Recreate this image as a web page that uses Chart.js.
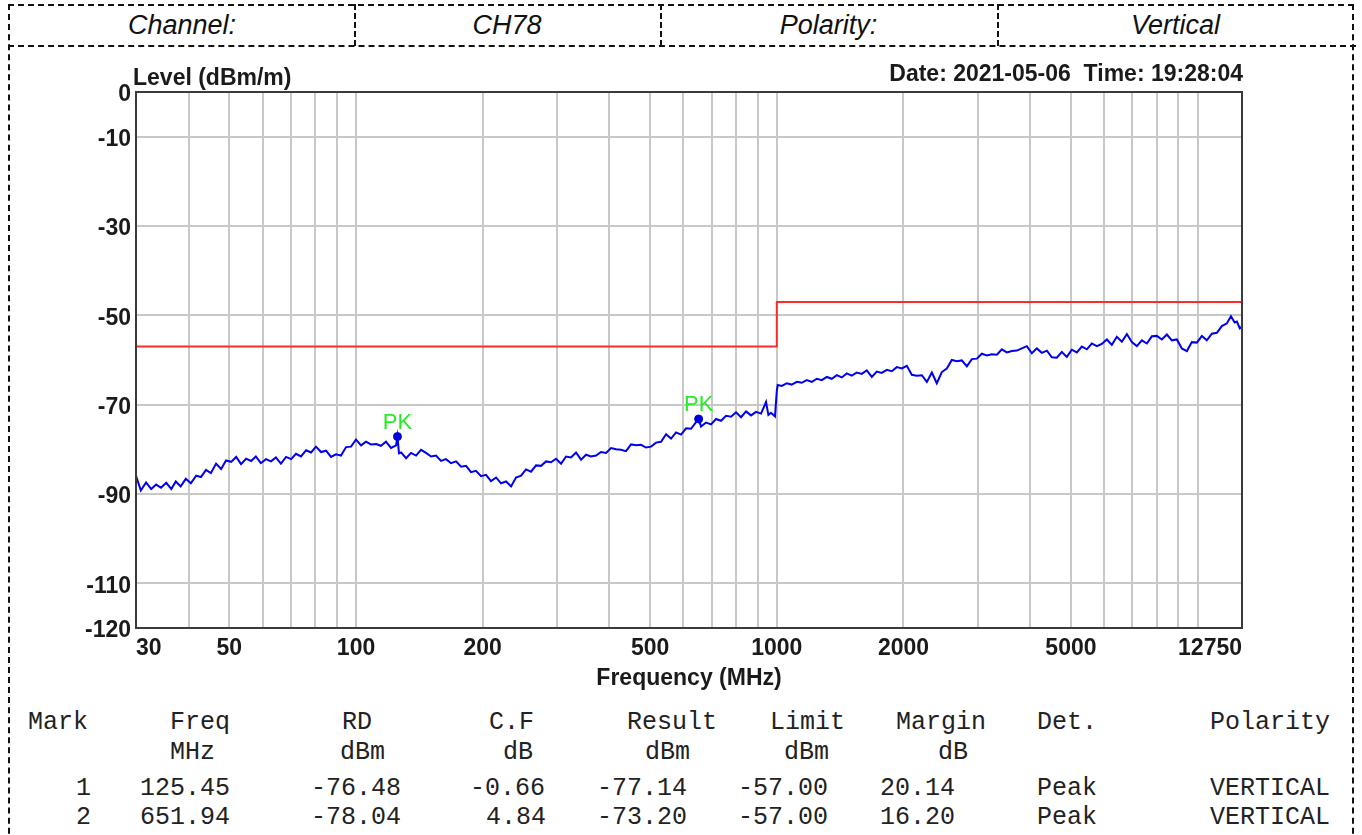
<!DOCTYPE html>
<html>
<head>
<meta charset="utf-8">
<script src="https://cdn.jsdelivr.net/npm/chart.js@4.4.1/dist/chart.umd.min.js"></script>
<style>
  html, body { margin: 0; padding: 0; background: #fff; }
  #page { position: relative; width: 1362px; height: 835px; overflow: hidden; }
  .frame { position: absolute; left: 8px; top: 4px; width: 1346px; height: 900px;
           border: 2px dashed #111; box-sizing: border-box; }
  .hline { position: absolute; left: 8px; top: 45px; width: 1348px; height: 0; border-top: 2px dashed #111; }
  .vline { position: absolute; top: 4px; height: 42px; width: 0; border-left: 2px dashed #111; }
  .hcell { position: absolute; top: 6px; height: 39px; display: flex; align-items: center; justify-content: center;
           font: italic 27px "Liberation Sans", Arial, sans-serif; color: #111; }
  #chartBox { position: absolute; left: 0; top: 50px; }
  .tcell { position: absolute; font: 25px "Liberation Mono", "Courier New", monospace; color: #222;
           line-height: 28px; white-space: pre; }
</style>
</head>
<body>
<div id="page">
  <div class="frame"></div>
  <div class="hline"></div>
  <div class="vline" style="left:354px"></div>
  <div class="vline" style="left:660px"></div>
  <div class="vline" style="left:997px"></div>
  <div id="head"></div>
  <div id="chartBox"><canvas id="Chart1" width="1362" height="650"></canvas></div>
  <div id="table"></div>
</div>
<script>
document.addEventListener("DOMContentLoaded", function () {

  // header cells
  const headText = ["Channel:", "CH78", "Polarity:", "Vertical"];
  const headEdges = [10, 354, 660, 997, 1354];

  // measured trace (MHz / dBm)
  const freqMHz = [
    30, 30.8, 31.7, 32.6, 33.5, 34.4, 35.4, 36.4, 37.3, 38.3, 39.4, 40.5, 41.7, 42.8, 44.0, 45.2,
    46.5, 47.8, 49.1, 50.5, 51.9, 53.3, 54.8, 56.3, 57.8, 59.4, 61.1, 62.8, 64.5, 66.3, 68.2, 70.1,
    72.0, 74.0, 76.1, 78.2, 80.3, 82.6, 84.9, 87.2, 89.6, 92.1, 94.7, 97.3, 100, 102.8, 105.6, 108.5,
    111.6, 114.6, 117.8, 121.1, 124.5, 125.45, 126.5, 128.0, 131.5, 135.1, 138.9, 142.7, 146.7, 150.8,
    154.9, 159.2, 163.6, 168.2, 172.9, 177.7, 182.6, 187.6, 192.8, 198.2, 203.7, 209.3, 215.2, 221.1,
    227.3, 233.6, 240.0, 246.7, 253.5, 260.5, 267.8, 275.2, 282.9, 290.7, 298.8, 307.1, 315.6, 324.3,
    333.3, 342.6, 352.1, 361.8, 371.9, 382.2, 392.8, 403.7, 414.9, 426.4, 438.2, 450.3, 462.9, 475.7,
    488.9, 502.4, 516.4, 530.7, 545.5, 560.6, 576.2, 592.1, 608.6, 625.5, 642.8, 651.94, 660.6, 678.9,
    697.8, 717.1, 737.0, 757.4, 778.4, 800, 822.2, 845, 868.4, 892.5, 917.3, 942.7, 955, 968.8,
    990, 1000, 1005, 1028, 1056, 1085, 1116, 1146, 1178, 1211, 1245, 1279, 1315, 1351, 1389, 1427,
    1467, 1507, 1549, 1592, 1636, 1682, 1728, 1776, 1826, 1876, 1928, 1982, 2037, 2093, 2151, 2211,
    2273, 2336, 2400, 2467, 2535, 2605, 2678, 2752, 2829, 2907, 2988, 3071, 3156, 3243, 3334, 3426,
    3521, 3619, 3719, 3822, 3928, 4037, 4149, 4264, 4383, 4504, 4629, 4757, 4889, 5025, 5164, 5307,
    5455, 5606, 5762, 5921, 6086, 6254, 6428, 6606, 6790, 6978, 7172, 7371, 7575, 7785, 8001, 8223,
    8452, 8686, 8927, 9174, 9429, 9690, 9960, 10236, 10520, 10811, 11111, 11419, 11737, 12000, 12250, 12397,
    12600, 12750
  ];
  const levelDbm = [
    -85.9, -89.2, -87.4, -88.9, -87.9, -88.6, -87.5, -88.9, -87.2, -88.3, -86.6, -87.6, -85.9, -86.2, -84.6, -85.3,
    -83.2, -84.4, -82.5, -82.8, -81.7, -83.3, -82.1, -82.6, -81.6, -83.1, -82.2, -82.7, -81.8, -83.2, -81.7, -82.2,
    -81.0, -81.6, -80.2, -80.7, -79.4, -80.6, -80.3, -81.7, -81.1, -81.4, -79.5, -79.4, -77.8, -79.1, -78.3, -78.9,
    -78.8, -79.2, -78.3, -79.7, -79.1, -77.14, -80.9, -80.7, -82.0, -80.8, -81.4, -80.1, -80.8, -81.6,
    -81.4, -82.6, -82.2, -83.1, -82.7, -83.9, -83.7, -85.1, -84.8, -86.0, -85.7, -87.1, -86.3, -87.6,
    -87.2, -88.3, -86.3, -85.9, -84.5, -85.0, -83.6, -83.7, -82.7, -82.9, -82.1, -83.2, -81.6, -81.8,
    -80.7, -82.3, -81.2, -81.6, -81.4, -80.6, -80.8, -79.7, -80.0, -80.1, -80.4, -78.9, -79.1, -79.0,
    -79.6, -79.4, -78.5, -78.3, -76.6, -77.6, -76.2, -76.7, -75.3, -75.4, -73.9, -73.2, -74.9, -74.0,
    -74.4, -73.2, -73.6, -72.5, -72.7, -71.7, -72.8, -71.5, -72.4, -71.6, -72.0, -69.4, -72.3, -71.8,
    -72.6, -66.9, -65.6, -65.8, -65.2, -65.5, -64.9, -65.1, -64.5, -64.9, -64.2, -64.5, -63.8, -64.2, -63.4, -63.9,
    -63.0, -63.5, -62.8, -63.1, -62.3, -63.8, -62.6, -62.9, -62.2, -62.5, -61.6, -61.9, -61.3, -63.3, -63.5, -63.4,
    -64.9, -62.8, -65.2, -62.7, -61.9, -60.0, -60.3, -60.1, -61.4, -59.8, -59.7, -58.6, -59.0, -58.7, -58.8, -57.6,
    -58.3, -58.0, -57.9, -57.4, -56.9, -58.5, -57.4, -58.4, -57.9, -59.4, -59.5, -58.2, -59.3, -57.7, -58.3, -57.0,
    -57.6, -56.3, -56.9, -56.4, -55.4, -56.6, -54.8, -55.9, -54.2, -56.0, -56.9, -55.6, -56.3, -54.7, -54.6, -55.4,
    -54.3, -55.6, -55.4, -57.4, -58.0, -56.0, -56.1, -54.6, -55.6, -54.1, -53.9, -52.4, -51.8, -50.2, -51.6, -51.4,
    -52.9, -52.5
  ];

  // limit line
  const limitFreq = [30, 1000, 1000, 12750];
  const limitLevel = [-57, -57, -47, -47];

  // peak markers
  const markFreq = [125.45, 651.94];
  const markLevel = [-77.14, -73.20];
  const markText = ["PK", "PK"];

  // axes
  const yTicks = [0, -10, -30, -50, -70, -90, -110, -120];
  const xGrid = [30, 40, 50, 60, 70, 80, 90, 100, 200, 300, 400, 500, 600, 700, 800, 900,
                 1000, 2000, 3000, 4000, 5000, 6000, 7000, 8000, 9000, 10000, 12750];
  const xLabels = [30, 50, 100, 200, 500, 1000, 2000, 5000, 12750];

  // result table
  const tableRows = [
    ["Mark", "Freq", "RD", "C.F", "Result", "Limit", "Margin", "Det.", "Polarity"],
    ["", "MHz", "dBm", "dB", "dBm", "dBm", "dB", "", ""],
    ["1", "125.45", "-76.48", "-0.66", "-77.14", "-57.00", "20.14", "Peak", "VERTICAL"],
    ["2", "651.94", "-78.04", "4.84", "-73.20", "-57.00", "16.20", "Peak", "VERTICAL"]
  ];
  const rowLeft = [
    [28, 170, 342, 489, 627, 770, 896, 1037, 1210],
    [28, 170, 340, 503, 645, 784, 938, 1037, 1210],
    [76, 140, 311, 470, 597, 738, 880, 1037, 1210],
    [76, 140, 311, 486, 597, 738, 880, 1037, 1210]
  ];
  const rowTop = [709, 739, 775, 804];

  const head = document.getElementById('head');
  headText.forEach(function (t, i) {
    const d = document.createElement('div');
    d.className = 'hcell';
    d.style.left = headEdges[i] + 'px';
    d.style.width = (headEdges[i + 1] - headEdges[i]) + 'px';
    d.textContent = t;
    head.appendChild(d);
  });

  const table = document.getElementById('table');
  tableRows.forEach(function (row, r) {
    row.forEach(function (t, c) {
      if (!t) return;
      const d = document.createElement('div');
      d.className = 'tcell';
      d.style.left = rowLeft[r][c] + 'px';
      d.style.top = rowTop[r] + 'px';
      d.textContent = t;
      table.appendChild(d);
    });
  });

  const boldFont = { family: "'Liberation Sans', Arial, sans-serif", size: 23, weight: 'bold' };

  const frameAndText = {
    id: 'frameAndText',
    afterDatasetsDraw: function (chart) {
      const ctx = chart.ctx;
      const a = chart.chartArea;
      const xs = chart.scales.x, ys = chart.scales.y;
      ctx.save();
      // PK labels
      ctx.font = "22px 'Liberation Sans', Arial, sans-serif";
      ctx.fillStyle = 'rgb(40,235,40)';
      ctx.textAlign = 'center';
      ctx.textBaseline = 'alphabetic';
      markFreq.forEach(function (f, i) {
        ctx.fillText(markText[i], xs.getPixelForValue(f), ys.getPixelForValue(markLevel[i]) - 8);
      });
      // plot frame
      ctx.strokeStyle = '#3a3a3a';
      ctx.lineWidth = 2;
      ctx.strokeRect(a.left, a.top, a.right - a.left, a.bottom - a.top);
      // axis title + date
      ctx.fillStyle = '#1a1a1a';
      ctx.font = "bold 23px 'Liberation Sans', Arial, sans-serif";
      ctx.textAlign = 'left';
      ctx.fillText('Level (dBm/m)', a.left - 3, a.top - 7);
      ctx.textAlign = 'right';
      ctx.fillText('Date: 2021-05-06  Time: 19:28:04', a.right + 1, a.top - 11);
      ctx.restore();
    }
  };

  const config1 = {
    type: 'line',
    data: {
      datasets: [
        {
          data: freqMHz.map(function (f, i) { return { x: f, y: levelDbm[i] }; }),
          borderColor: '#0000f0',
          borderWidth: 2,
          pointRadius: 0,
          tension: 0
        },
        {
          data: limitFreq.map(function (f, i) { return { x: f, y: limitLevel[i] }; }),
          borderColor: 'rgb(250,45,45)',
          borderWidth: 2,
          pointRadius: 0,
          tension: 0
        },
        {
          type: 'scatter',
          data: markFreq.map(function (f, i) { return { x: f, y: markLevel[i] }; }),
          backgroundColor: '#0000d0',
          borderColor: '#0000d0',
          pointRadius: 4,
          showLine: false
        }
      ]
    },
    options: {
      responsive: false,
      animation: false,
      devicePixelRatio: 1,
      layout: { padding: { top: 42, right: 120, bottom: 4, left: 0 } },
      scales: {
        x: {
          type: 'logarithmic',
          min: 30,
          max: 12750,
          afterBuildTicks: function (s) { s.ticks = xGrid.map(function (v) { return { value: v }; }); },
          afterFit: function (s) { s.height = 68; },
          grid: { color: '#c8c8c8', lineWidth: 2, drawTicks: false },
          border: { display: false },
          ticks: {
            autoSkip: false,
            maxRotation: 0,
            align: 'inner',
            padding: 7,
            color: '#1a1a1a',
            font: boldFont,
            callback: function (v) { return xLabels.indexOf(v) >= 0 ? String(v) : ''; }
          },
          title: {
            display: true,
            text: 'Frequency (MHz)',
            color: '#1a1a1a',
            font: boldFont,
            padding: { top: 0, bottom: 4 }
          }
        },
        y: {
          min: -120,
          max: 0,
          afterBuildTicks: function (s) { s.ticks = yTicks.map(function (v) { return { value: v }; }); },
          afterFit: function (s) { s.width = 136; },
          grid: { color: '#c8c8c8', lineWidth: 2, drawTicks: false },
          border: { display: false },
          ticks: {
            padding: 5,
            color: '#1a1a1a',
            font: boldFont,
            labelOffset: 3
          }
        }
      },
      plugins: {
        legend: { display: false },
        tooltip: { enabled: false }
      }
    },
    plugins: [frameAndText]
  };

  var myChart1 = new Chart(document.getElementById('Chart1'), config1);
});
</script>
</body>
</html>
